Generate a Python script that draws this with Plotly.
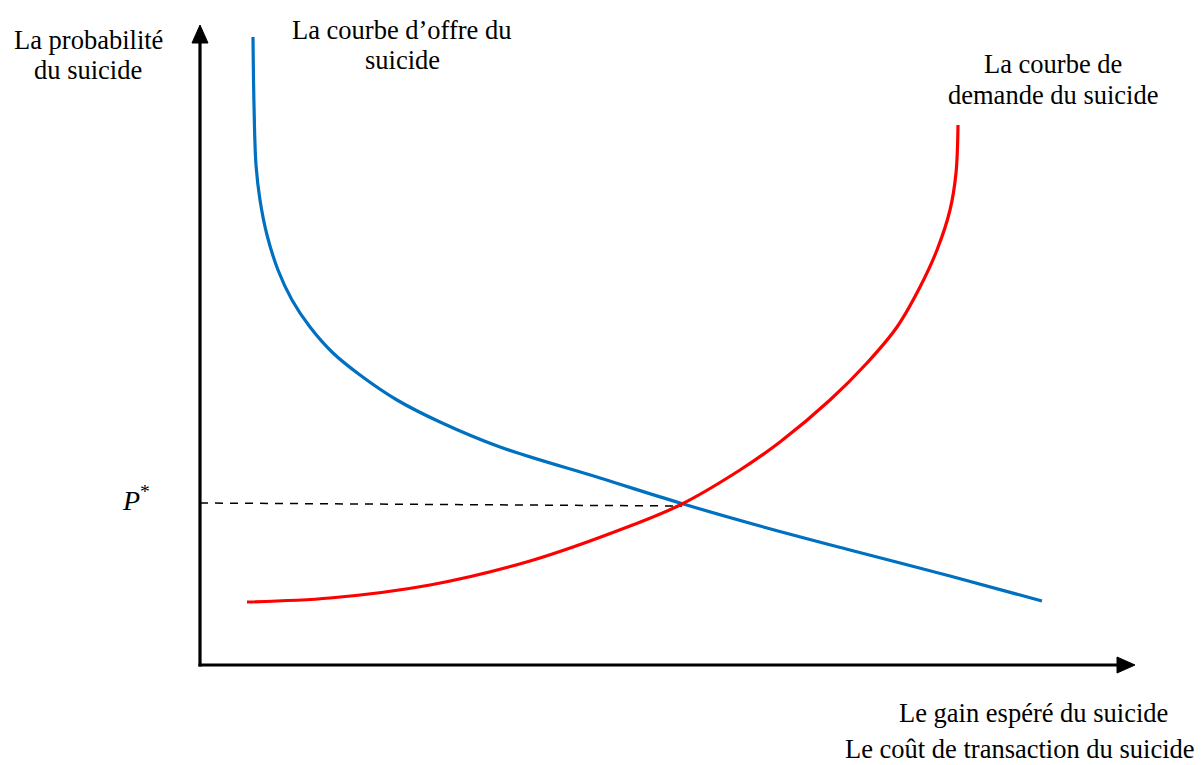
import plotly.graph_objects as go

# Supply curve (blue) - chart coordinates (origin at the axes corner)
supply_x = [53, 54, 56, 60, 67, 78, 92, 110, 133, 160, 197, 240, 300, 400, 480, 560, 650, 750, 842]
supply_y = [628, 560, 500, 465, 430, 395, 365, 338, 312, 290, 265, 243, 218, 187, 162, 139, 115, 89, 64]

# Demand curve (red)
demand_x = [47, 130, 230, 330, 430, 480, 540, 580, 630, 667, 697, 720, 737, 750, 756, 758]
demand_y = [63, 67, 80, 104, 139, 160, 195, 223, 265, 302, 338, 378, 415, 455, 492, 540]

# Equilibrium price P* (dashed guide from the vertical axis to the intersection)
eq_x = [0, 482]
eq_y = [162, 159]

FONT = "Liberation Serif"

fig = go.Figure()
fig.add_trace(go.Scatter(x=eq_x, y=eq_y, mode="lines",
                         line=dict(color="black", width=1.5, dash="8px,7px"),
                         hoverinfo="skip"))
fig.add_trace(go.Scatter(x=supply_x, y=supply_y, mode="lines",
                         line=dict(color="#0070C0", width=3.2, shape="spline", smoothing=1.0),
                         hoverinfo="skip"))
fig.add_trace(go.Scatter(x=demand_x, y=demand_y, mode="lines",
                         line=dict(color="#FF0000", width=3.2, shape="spline", smoothing=1.0),
                         hoverinfo="skip"))

# Axes lines and arrowheads
fig.add_shape(type="line", x0=0, y0=-1.5, x1=0, y1=625, xref="x", yref="y",
              line=dict(color="black", width=3.2))
fig.add_shape(type="line", x0=-1.5, y0=0, x1=920, y1=0, xref="x", yref="y",
              line=dict(color="black", width=3.2))
fig.add_shape(type="path", path="M -8,622 L 8,622 L 0,640 Z", xref="x", yref="y",
              fillcolor="black", line=dict(color="black", width=1))
fig.add_shape(type="path", path="M 917,-8 L 917,8 L 935,0 Z", xref="x", yref="y",
              fillcolor="black", line=dict(color="black", width=1))

def label(x, y, text, xanchor="center", yanchor="middle", size=26.5):
    fig.add_annotation(x=x, y=y, xref="x", yref="y", text=text, showarrow=False,
                       xanchor=xanchor, yanchor=yanchor,
                       font=dict(family=FONT, size=size, color="black"))

label(-112, 625, "La probabilité")
label(-112, 595, "du suicide")
label(202, 635, "La courbe d\u2019offre du")
label(202, 605, "suicide")
label(853, 601, "La courbe de")
label(853, 570, "demande du suicide")
label(970, -48, "Le gain espéré du suicide", xanchor="right")
label(997, -84, "Le coût de transaction du suicide", xanchor="right")
label(-64, 167, "<i>P</i><sup>*</sup>", size=28)

fig.update_layout(
    width=1195, height=757, autosize=False,
    margin=dict(l=0, r=0, t=0, b=0),
    paper_bgcolor="white", plot_bgcolor="white",
    showlegend=False,
    xaxis=dict(range=[-192, 1003], visible=False, fixedrange=True),
    yaxis=dict(range=[-100, 657], visible=False, fixedrange=True),
)

fig.write_html("out.html")
